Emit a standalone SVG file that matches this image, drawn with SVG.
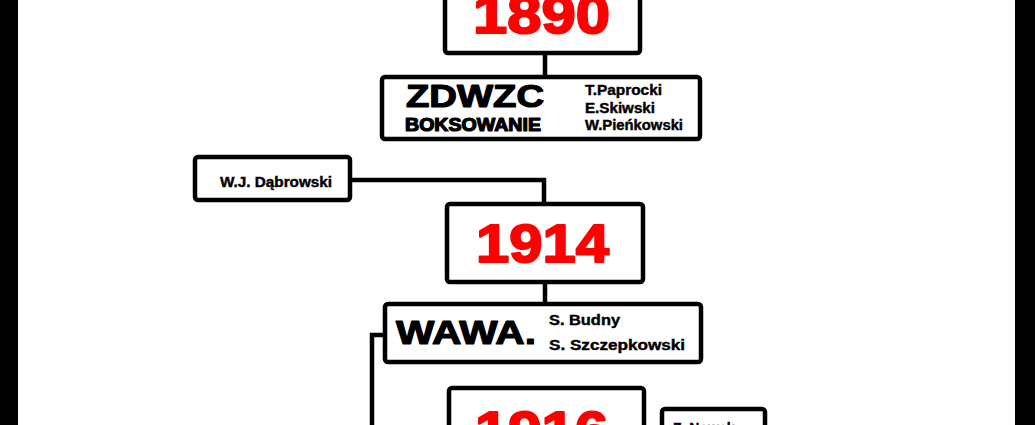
<svg xmlns="http://www.w3.org/2000/svg" width="1035" height="425" viewBox="0 0 1035 425">
<style>
.box{fill:#fff;stroke:#000;stroke-width:4.5;stroke-linejoin:round}
.conn{fill:none;stroke:#000;stroke-width:4.5}
.year{font-family:"Liberation Sans",Arial,sans-serif;font-weight:bold;font-size:54px;fill:#f00;stroke:#f00;stroke-width:2;stroke-linejoin:round}
.big{font-family:"Liberation Sans",Arial,sans-serif;font-weight:bold;fill:#000;stroke:#000;stroke-width:1.2;stroke-linejoin:round}
.name{font-family:"Liberation Sans",Arial,sans-serif;font-weight:bold;font-size:14px;fill:#000;stroke:#000;stroke-width:0.4}
</style>
<rect x="0" y="0" width="1035" height="425" fill="#fff"/>
<rect x="0" y="0" width="18" height="425" fill="#000"/>
<rect x="1015" y="0" width="20" height="425" fill="#000"/>
<g id="connectors">
<path class="conn" d="M545 55 V77"/>
<path class="conn" d="M352 180 H544 V204"/>
<path class="conn" d="M545 284 V304"/>
<path class="conn" d="M385 335 H372 V430"/>
</g>
<g id="n1890">
<rect class="box" x="445" y="-10" width="195" height="63" rx="3"/>
<text class="year" x="473" y="33" textLength="137" lengthAdjust="spacingAndGlyphs">1890</text>
</g>
<g id="zdwzc">
<rect class="box" x="382" y="77" width="318" height="62" rx="3"/>
<text class="big" x="406" y="107" font-size="30.5" textLength="138" lengthAdjust="spacingAndGlyphs">ZDWZC</text>
<text class="big" x="405" y="131" font-size="18" stroke-width="0.6" textLength="136" lengthAdjust="spacingAndGlyphs">BOKSOWANIE</text>
<text class="name" x="585" y="95" font-size="13" textLength="77" lengthAdjust="spacingAndGlyphs">T.Paprocki</text>
<text class="name" x="585" y="113" font-size="13" textLength="70" lengthAdjust="spacingAndGlyphs">E.Skiwski</text>
<text class="name" x="585" y="130" font-size="13" textLength="98" lengthAdjust="spacingAndGlyphs">W.Pieńkowski</text>
</g>
<g id="dabrowski">
<rect class="box" x="195" y="157" width="155" height="43" rx="3"/>
<text class="name" x="220" y="187" font-size="15" textLength="112" lengthAdjust="spacingAndGlyphs">W.J. Dąbrowski</text>
</g>
<g id="n1914">
<rect class="box" x="447" y="204" width="196" height="78" rx="3"/>
<text class="year" x="476" y="262" textLength="133" lengthAdjust="spacingAndGlyphs">1914</text>
</g>
<g id="wawa">
<rect class="box" x="385" y="304" width="316" height="58" rx="3"/>
<text class="big" x="396" y="344" font-size="33" textLength="140" lengthAdjust="spacingAndGlyphs">WAWA.</text>
<text class="name" x="549" y="325" font-size="15" textLength="71" lengthAdjust="spacingAndGlyphs">S. Budny</text>
<text class="name" x="549" y="350" font-size="15" textLength="136" lengthAdjust="spacingAndGlyphs">S. Szczepkowski</text>
</g>
<g id="n1916">
<rect class="box" x="449" y="388" width="195" height="80" rx="3"/>
<text class="year" x="475" y="449" textLength="133" lengthAdjust="spacingAndGlyphs">1916</text>
</g>
<g id="nowak">
<rect class="box" x="662" y="409" width="103" height="50" rx="3"/>
<text class="name" x="673" y="433" font-size="15">Z. Nowak</text>
</g>
</svg>
